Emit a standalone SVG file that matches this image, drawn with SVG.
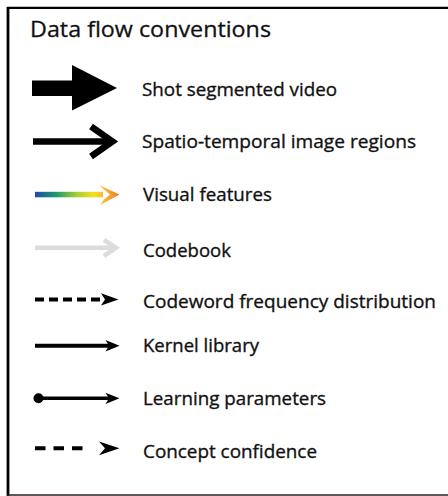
<svg xmlns="http://www.w3.org/2000/svg" width="448" height="496" viewBox="0 0 448 496">
<style>
.lbl{font-family:"Open Sans","Liberation Sans",sans-serif;font-size:19px;fill:#111;stroke:#111;stroke-width:0.35}
.ttl{font-family:"Open Sans","Liberation Sans",sans-serif;font-size:22px;fill:#111;stroke:#111;stroke-width:0.3}
.blk{fill:#000}
</style>
<defs>
<linearGradient id="vf" gradientUnits="userSpaceOnUse" x1="35" y1="0" x2="119" y2="0">
<stop offset="0" stop-color="#1f4aa8"/>
<stop offset="0.25" stop-color="#1c9a6a"/>
<stop offset="0.5" stop-color="#a8d030"/>
<stop offset="0.7" stop-color="#f4e020"/>
<stop offset="0.85" stop-color="#f8b030"/>
<stop offset="1" stop-color="#f07a28"/>
</linearGradient>
</defs>
<rect width="448" height="496" fill="#fff"/>
<g id="frame" fill="none">
<line x1="8" y1="7" x2="8" y2="496" stroke="#000" stroke-width="2.8"/>
<line x1="7" y1="7.9" x2="448" y2="7.9" stroke="#000" stroke-width="2.4"/>
<line x1="7" y1="495" x2="448" y2="495" stroke="#2a1f1f" stroke-width="1.5"/>
</g>
<g id="title"><text class="ttl" x="30" y="36.7" textLength="241" lengthAdjust="spacingAndGlyphs">Data flow conventions</text></g>
<g id="connectors">
<g id="a-shot">
<rect class="blk" x="32" y="80.5" width="41" height="15.5"/>
<polygon class="blk" points="72,65 117,88 72,110.5"/>
</g>
<g id="a-spatio" fill="none" stroke="#000" stroke-width="6.5">
<line x1="33" y1="141.5" x2="112" y2="141.5"/>
<polyline points="91,126.5 112.5,141.5 91,156.5" stroke-linejoin="miter" stroke-miterlimit="10"/>
</g>
<g id="a-visual">
<rect x="35" y="191.8" width="68" height="5.5" fill="url(#vf)"/>
<polygon points="99,185 119.5,194.5 100,205 104,199.5 110,194.5 103.5,189" fill="url(#vf)"/>
</g>
<g id="a-codebook" fill="none" stroke="#dcdcdc" stroke-width="4.5">
<line x1="35" y1="247.7" x2="115" y2="247.7"/>
<polyline points="104,240 116,247.7 104,256"/>
</g>
<g id="a-codeword">
<line x1="35" y1="299.4" x2="104" y2="299.4" stroke="#000" stroke-width="4" stroke-dasharray="9 5"/>
<polygon class="blk" points="101,293.3 118.5,299.4 101,305.5 105,299.4"/>
</g>
<g id="a-kernel">
<line x1="35" y1="345.7" x2="110" y2="345.7" stroke="#000" stroke-width="4"/>
<polygon class="blk" points="105.5,340 119.5,345.7 105.5,351.5 109,345.7"/>
</g>
<g id="a-learning">
<circle class="blk" cx="38.5" cy="398.3" r="5"/>
<line x1="38" y1="398.3" x2="110" y2="398.3" stroke="#000" stroke-width="3.5"/>
<polygon class="blk" points="105.5,392.7 119.5,398.3 105.5,404 109,398.3"/>
</g>
<g id="a-concept">
<line x1="35" y1="448.3" x2="84" y2="448.3" stroke="#000" stroke-width="4" stroke-dasharray="10.5 8"/>
<polygon class="blk" points="99,441.5 119.5,448.3 99,455.3 105,448.3"/>
</g>
</g>
<g id="labels">
<g id="n-shot"><text class="lbl" x="142" y="95.5" textLength="195" lengthAdjust="spacingAndGlyphs">Shot segmented video</text></g>
<g id="n-spatio"><text class="lbl" x="142" y="148.3" textLength="274" lengthAdjust="spacingAndGlyphs">Spatio-temporal image regions</text></g>
<g id="n-visual"><text class="lbl" x="143" y="200.5" textLength="129" lengthAdjust="spacingAndGlyphs">Visual features</text></g>
<g id="n-codebook"><text class="lbl" x="143" y="256.7" textLength="88" lengthAdjust="spacingAndGlyphs">Codebook</text></g>
<g id="n-codeword"><text class="lbl" x="143" y="307.8" textLength="293" lengthAdjust="spacingAndGlyphs">Codeword frequency distribution</text></g>
<g id="n-kernel"><text class="lbl" x="143" y="351.7" textLength="116" lengthAdjust="spacingAndGlyphs">Kernel library</text></g>
<g id="n-learning"><text class="lbl" x="143" y="405" textLength="183" lengthAdjust="spacingAndGlyphs">Learning parameters</text></g>
<g id="n-concept"><text class="lbl" x="143" y="458.3" textLength="174" lengthAdjust="spacingAndGlyphs">Concept confidence</text></g>
</g>
</svg>
